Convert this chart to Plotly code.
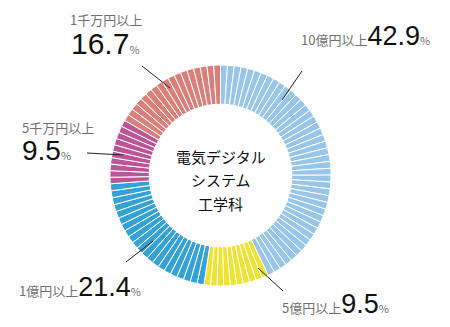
import plotly.graph_objects as go

categories = ["10億円以上", "5億円以上", "1億円以上", "5千万円以上", "1千万円以上"]
values = [42.9, 9.5, 21.4, 9.5, 16.7]
colors = ["#97c6ea", "#ece332", "#34a2d5", "#bb5596", "#d9807a"]
center_lines = ["電気デジタル", "システム", "工学科"]

# split every category into ~1% stripes (white separators)
labels, vals, cols = [], [], []
for c, v, col in zip(categories, values, colors):
    n = max(1, round(v))
    for i in range(n):
        labels.append(f"{c}-{i}")
        vals.append(v / n)
        cols.append(col)

W, H = 450, 327
cx, cy, r = 220.5, 175.5, 110.5

fig = go.Figure(go.Pie(
    labels=labels, values=vals, sort=False, direction="clockwise", rotation=0,
    hole=0.645, textinfo="none", hoverinfo="skip",
    marker=dict(colors=cols, line=dict(color="white", width=1)),
    domain=dict(x=[(cx - r) / W, (cx + r) / W], y=[1 - (cy + r) / H, 1 - (cy - r) / H]),
    showlegend=False,
))

FONT = "Liberation Sans, Arial, Noto Sans CJK JP"
GRAY = "#707070"

def px(x, y):
    return x / W, 1 - y / H

anns = []
def add(text, x, y, xanchor="left", yanchor="middle"):
    ax, ay = px(x, y)
    anns.append(dict(text=text, x=ax, y=ay, xref="paper", yref="paper", xanchor=xanchor,
                     yanchor=yanchor, showarrow=False, font=dict(family=FONT, color="black"),
                     align="left"))

def small(t, s=13):
    return f"<span style='font-size:{s}px;color:{GRAY};font-family:Noto Sans CJK JP'>{t}</span>"

def big(t, s=27):
    return f"<span style='font-size:{s}px;color:#111'>{t}</span>"

pct = [f"{v:.1f}" for v in values]

# single-line labels
add(small(categories[0]) + big(pct[0]) + small("%", 11), 299, 36)
add(small(categories[1]) + big(pct[1]) + small("%", 11), 280, 304)
add(small(categories[2]) + big(pct[2]) + small("%", 11), 17, 287)
# two-line labels
add(small(categories[3]), 20, 127)
add(big(pct[3], 28) + small("%", 11), 20, 150)
add(small(categories[4]), 68, 19)
add(big(pct[4], 30) + small("%", 11), 69, 43)

for i, t in enumerate(center_lines):
    ax, ay = px(cx, 156 + i * 23.5)
    anns.append(dict(text=t, x=ax, y=ay, xref="paper", yref="paper", showarrow=False,
                     font=dict(family="Noto Sans CJK JP", size=15, color="#111")))

leaders = [((302, 71), (282, 100)), ((258, 268), (283, 291)), ((153, 241), (126, 262)),
           ((87, 153), (123, 155)), ((142, 66), (170, 88))]
shapes = []
for (x0, y0), (x1, y1) in leaders:
    a0, b0 = px(x0, y0)
    a1, b1 = px(x1, y1)
    shapes.append(dict(type="line", xref="paper", yref="paper", x0=a0, y0=b0, x1=a1, y1=b1,
                       line=dict(color="#222", width=1)))

fig.update_layout(width=W, height=H, margin=dict(l=0, r=0, t=0, b=0),
                  paper_bgcolor="white", plot_bgcolor="white",
                  annotations=anns, shapes=shapes)
fig.write_html("out.html")
